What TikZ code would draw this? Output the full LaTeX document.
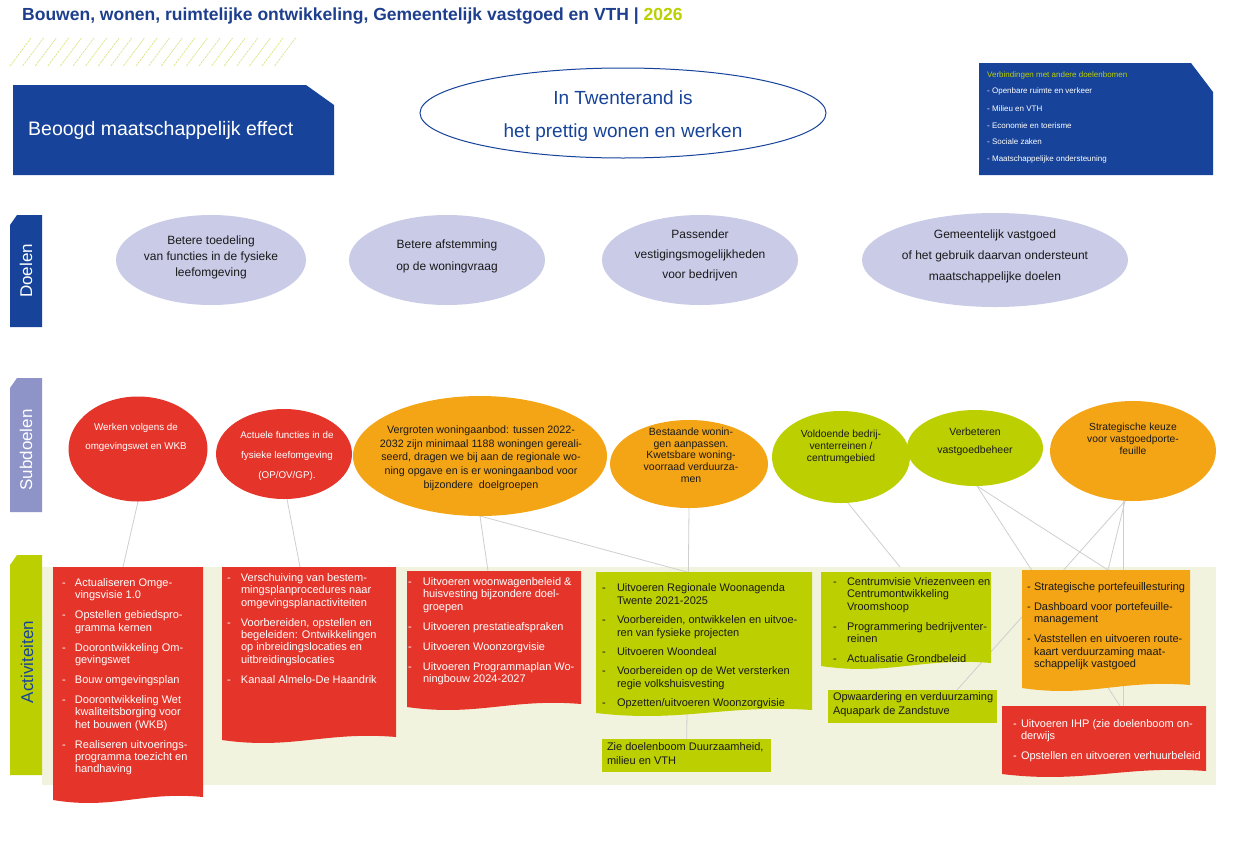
\documentclass[tikz,border=0pt]{standalone}
\usepackage{fontspec}
\setmainfont{Liberation Sans}
\usetikzlibrary{shapes.geometric,calc}
\definecolor{dblue}{HTML}{17449A}
\definecolor{tblue}{HTML}{1E3F8E}
\definecolor{limeg}{HTML}{BCCF00}
\definecolor{hatchc}{HTML}{D9E27A}
\definecolor{rred}{HTML}{E5352B}
\definecolor{oor}{HTML}{F4A516}
\definecolor{lav}{HTML}{C9CBE7}
\definecolor{lavd}{HTML}{8E93C8}
\definecolor{cream}{HTML}{F1F3DE}
\definecolor{conn}{HTML}{CFCFCF}
\definecolor{ink}{HTML}{1A1A1A}
\pgfdeclarelayer{bg}\pgfdeclarelayer{lines}\pgfsetlayers{bg,lines,main}
\newcommand\gap{\\[7.7pt]}
\newcommand\actbox[6]{%
  \fill[#6] (#2,#3) -- ({#2+#4},#3) -- ({#2+#4},{#3+#5-3}) .. controls ({#2+0.6*#4},{#3+#5-9}) and ({#2+0.4*#4},{#3+#5+10}) .. (#2,{#3+#5}) -- cycle;
  \path (#2,#3) node[anchor=north west, minimum width=#4pt, minimum height=#5pt, inner sep=0pt, outer sep=0pt] (#1) {};
}
\begin{document}
\begin{tikzpicture}[x=1pt,y=-1pt,
  ell/.style={ellipse, inner sep=0pt, outer sep=0pt},
  lst/.style={anchor=north west, inner sep=0pt, outer sep=0pt, align=left, font=\fontsize{11}{12.3}\selectfont},
  etxt/.style={align=center, inner sep=0pt, text=ink},
  side/.style={rotate=90, font=\fontsize{17}{20}\selectfont, inner sep=0pt},
  cn/.style={conn, line width=0.8pt},
  small/.style={anchor=west, inner sep=0pt, font=\fontsize{8}{9}\selectfont}]
\useasboundingbox (0,0) rectangle (1241,841);
\begin{pgfonlayer}{bg}
\fill[white] (0,0) rectangle (1241,841);
\fill[cream] (42,567) rectangle (1216,785);
\end{pgfonlayer}

% title
\node[anchor=west, inner sep=0pt, text=tblue, font=\fontsize{17.5}{20}\selectfont\bfseries] (title) at (22,16)
  {Bouwen, wonen, ruimtelijke ontwikkeling, Gemeentelijk vastgoed en VTH | \textcolor{limeg}{2026}};

% hatch
\foreach \i in {0,...,21} {
  \draw[hatchc, line width=0.6pt, dash pattern=on 2.5pt off 0.8pt] ({10+12.6*\i},66) -- ({31+12.6*\i},38);
}

% effect box
\fill[dblue] (13,85) -- (306,85) -- (334,105) -- (334,175) -- (13,175) -- cycle;
\node[anchor=west, inner sep=0pt, text=white, font=\fontsize{19.5}{22}\selectfont] (efflbl) at (28,130) {Beoogd maatschappelijk effect};

% main ellipse
\node[ell, draw=dblue, line width=1pt, fill=white, minimum width=406pt, minimum height=90pt] (eff) at (623,113) {};
\node[align=center, text=dblue, font=\fontsize{19}{33}\selectfont, inner sep=0pt] (efftxt) at (623,116) {In Twenterand is\\het prettig wonen en werken};

% top-right box
\fill[dblue] (979,63) -- (1191,63) -- (1213,92) -- (1213,175) -- (979,175) -- cycle;
\node[small, text=limeg] (v0) at (987,75) {Verbindingen met andere doelenbomen};
\node[small, text=white] (v1) at (987,91) {- Openbare ruimte en verkeer};
\node[small, text=white] (v2) at (987,109) {- Milieu en VTH};
\node[small, text=white] (v3) at (987,126) {- Economie en toerisme};
\node[small, text=white] (v4) at (987,142) {- Sociale zaken};
\node[small, text=white] (v5) at (987,159) {- Maatschappelijke ondersteuning};

% side labels
\fill[dblue] (10,225) -- (17,215) -- (42,215) -- (42,327) -- (10,327) -- cycle;
\node[side, text=white] (ldoel) at (26,271) {Doelen};
\fill[lavd] (10,388) -- (17,378) -- (42,378) -- (42,512) -- (10,512) -- cycle;
\node[side, text=white] (lsub) at (26,450) {Subdoelen};
\fill[limeg] (10,565) -- (17,555) -- (42,555) -- (42,775) -- (10,775) -- cycle;
\node[side, text=dblue] (lact) at (27,662) {Activiteiten};

% doelen
\node[ell, fill=lav, minimum width=190pt, minimum height=90pt] (e1) at (211,260) {};
\node[etxt, font=\fontsize{12}{16}\selectfont] (e1t) at (211,257) {Betere toedeling\\van functies in de fysieke\\leefomgeving};
\node[ell, fill=lav, minimum width=196pt, minimum height=90pt] (e2) at (447,260) {};
\node[etxt, font=\fontsize{12}{22}\selectfont] (e2t) at (447,256) {Betere afstemming\\op de woningvraag};
\node[ell, fill=lav, minimum width=196pt, minimum height=90pt] (e3) at (700,260) {};
\node[etxt, font=\fontsize{12}{20}\selectfont] (e3t) at (700,255) {Passender\\vestigingsmogelijkheden\\voor bedrijven};
\node[ell, fill=lav, minimum width=266pt, minimum height=94pt] (e4) at (995,260) {};
\node[etxt, font=\fontsize{12}{21}\selectfont] (e4t) at (995,256) {Gemeentelijk vastgoed\\of het gebruik daarvan ondersteunt\\maatschappelijke doelen};

% subdoelen
\node[ell, fill=rred, minimum width=139pt, minimum height=105pt] (s1) at (138,449) {};
\node[etxt, text=white, font=\fontsize{9.8}{19}\selectfont] (s1t) at (136,437) {Werken volgens de\\omgevingswet en WKB};
\node[ell, fill=rred, minimum width=136pt, minimum height=90pt] (s2) at (284,454) {};
\node[etxt, text=white, font=\fontsize{9.8}{20}\selectfont] (s2t) at (287,456) {Actuele functies in de\\fysieke leefomgeving\\(OP/OV/GP).};
\node[ell, fill=oor, minimum width=254pt, minimum height=120pt] (s3) at (480,456) {};
\node[etxt, font=\fontsize{10.7}{13.75}\selectfont] (s3t) at (481,458) {Vergroten woningaanbod: tussen 2022-\\2032 zijn minimaal 1188 woningen gereali-\\seerd, dragen we bij aan de regionale wo-\\ning opgave en is er woningaanbod voor\\bijzondere\ \ doelgroepen};
\node[ell, fill=oor, minimum width=158pt, minimum height=88pt] (s4) at (689,464) {};
\node[etxt, font=\fontsize{10.5}{11.75}\selectfont] (s4t) at (691,455) {Bestaande wonin-\\gen aanpassen.\\Kwetsbare woning-\\voorraad verduurza-\\men};
\node[ell, fill=limeg, minimum width=138pt, minimum height=92pt] (s5) at (841,457) {};
\node[etxt, font=\fontsize{10.3}{12}\selectfont] (s5t) at (841,447) {Voldoende bedrij-\\venterreinen /\\centrumgebied};
\node[ell, fill=limeg, minimum width=136pt, minimum height=76pt] (s6) at (975,448) {};
\node[etxt, font=\fontsize{10.5}{18}\selectfont] (s6t) at (975,442) {Verbeteren\\vastgoedbeheer};
\node[ell, fill=oor, minimum width=166pt, minimum height=100pt] (s7) at (1133,451) {};
\node[etxt, font=\fontsize{10.3}{12}\selectfont] (s7t) at (1133,439) {Strategische keuze\\voor vastgoedporte-\\feuille};

% activity boxes
\actbox{a1}{53}{567}{150}{233}{rred}
\node[lst, text=white] (a1t) at (62,578) {\begin{tabular}{@{}p{13pt}@{}l@{}}
-&Actualiseren Omge-\\ &vingsvisie 1.0\gap
-&Opstellen gebiedspro-\\ &gramma kernen\gap
-&Doorontwikkeling Om-\\ &gevingswet\gap
-&Bouw omgevingsplan\gap
-&Doorontwikkeling Wet\\ &kwaliteitsborging voor\\ &het bouwen (WKB)\gap
-&Realiseren uitvoerings-\\ &programma toezicht en\\ &handhaving
\end{tabular}};

\actbox{a2}{222}{567}{174}{173}{rred}
\node[lst, text=white] (a2t) at (227,573) {\begin{tabular}{@{}p{14pt}@{}l@{}}
-&Verschuiving van bestem-\\ &mingsplanprocedures naar\\ &omgevingsplanactiviteiten\gap
-&Voorbereiden, opstellen en\\ &begeleiden: Ontwikkelingen\\ &op inbreidingslocaties en\\ &uitbreidingslocaties\gap
-&Kanaal Almelo-De Haandrik
\end{tabular}};

\actbox{a3}{407}{571}{174}{136}{rred}
\node[lst, text=white] (a3t) at (408,577) {\begin{tabular}{@{}p{15pt}@{}l@{}}
-&Uitvoeren woonwagenbeleid \&\\ &huisvesting bijzondere doel-\\ &groepen\gap
-&Uitvoeren prestatieafspraken\gap
-&Uitvoeren Woonzorgvisie\gap
-&Uitvoeren Programmaplan Wo-\\ &ningbouw 2024-2027
\end{tabular}};

\actbox{a4}{596}{572}{216}{141}{limeg}
\node[lst, text=ink, font=\fontsize{11}{13}\selectfont] (a4t) at (602,582) {\begin{tabular}{@{}p{15pt}@{}l@{}}
-&Uitvoeren Regionale Woonagenda\\ &Twente 2021-2025\\[6pt]
-&Voorbereiden, ontwikkelen en uitvoe-\\ &ren van fysieke projecten\\[6pt]
-&Uitvoeren Woondeal\\[6pt]
-&Voorbereiden op de Wet versterken\\ &regie volkshuisvesting\\[6pt]
-&Opzetten/uitvoeren Woonzorgvisie
\end{tabular}};

\fill[limeg] (602,739) rectangle (771,772);
\node[anchor=north west, minimum width=169pt, minimum height=33pt, inner sep=0pt] (a4b) at (602,739) {};
\node[lst, text=ink, font=\fontsize{11}{14}\selectfont] (a4bt) at (607,743) {Zie doelenboom Duurzaamheid,\\milieu en VTH};

\actbox{a5}{821}{572}{170}{94}{limeg}
\node[lst, text=ink] (a5t) at (833,577) {\begin{tabular}{@{}p{14pt}@{}l@{}}
-&Centrumvisie Vriezenveen en\\ &Centrumontwikkeling\\ &Vroomshoop\gap
-&Programmering bedrijventer-\\ &reinen\gap
-&Actualisatie Grondbeleid
\end{tabular}};

\fill[limeg] (828,690) rectangle (997,723);
\node[anchor=north west, minimum width=169pt, minimum height=33pt, inner sep=0pt] (a5b) at (828,690) {};
\node[lst, text=ink, font=\fontsize{11}{14}\selectfont] (a5bt) at (833,693) {Opwaardering en verduurzaming\\Aquapark de Zandstuve};

\actbox{a6}{1022}{570}{168}{118}{oor}
\node[lst, text=ink] (a6t) at (1027,582) {\begin{tabular}{@{}p{7pt}@{}l@{}}
-&Strategische portefeuillesturing\gap
-&Dashboard voor portefeuille-\\ &management\gap
-&Vaststellen en uitvoeren route-\\ &kaart verduurzaming maat-\\ &schappelijk vastgoed
\end{tabular}};

\actbox{a7}{1002}{706}{204}{68}{rred}
\node[lst, text=white] (a7t) at (1013,719) {\begin{tabular}{@{}p{8pt}@{}l@{}}
-&Uitvoeren IHP (zie doelenboom on-\\ &derwijs\gap
-&Opstellen en uitvoeren verhuurbeleid
\end{tabular}};

% connectors
\begin{pgfonlayer}{lines}
\draw[cn] (s1.south) -- ($(a1.north west)+(70,0)$);
\draw[cn] ($(s2.south)+(3,0)$) -- ($(a2.north west)+(78,0)$);
\draw[cn] (s3.south) -- ($(a3.north west)+(81,0)$);
\draw[cn] (s3.south) -- ($(a4.north west)+(91,0)$);
\draw[cn] (s4.south) -- (a4b.north);
\draw[cn] ($(s5.south)+(7,0)$) -- ($(a5.north west)+(79,-5)$);
\draw[cn] ($(s6.south)+(2,0)$) -- ($(a7.north west)+(118,0)$);
\draw[cn] ($(s6.south)+(2,0)$) -- ($(a6.north west)+(86,0)$);
\draw[cn] ($(s7.south)+(-8,0)$) -- ($(a5b.north west)+(129,0)$);
\draw[cn] ($(s7.south)+(-8,0)$) -- ($(a6.north west)+(86,0)$);
\draw[cn] ($(s7.south)+(-10,0)$) -- ($(a7.north west)+(121,0)$);
\end{pgfonlayer}
\end{tikzpicture}
\end{document}
